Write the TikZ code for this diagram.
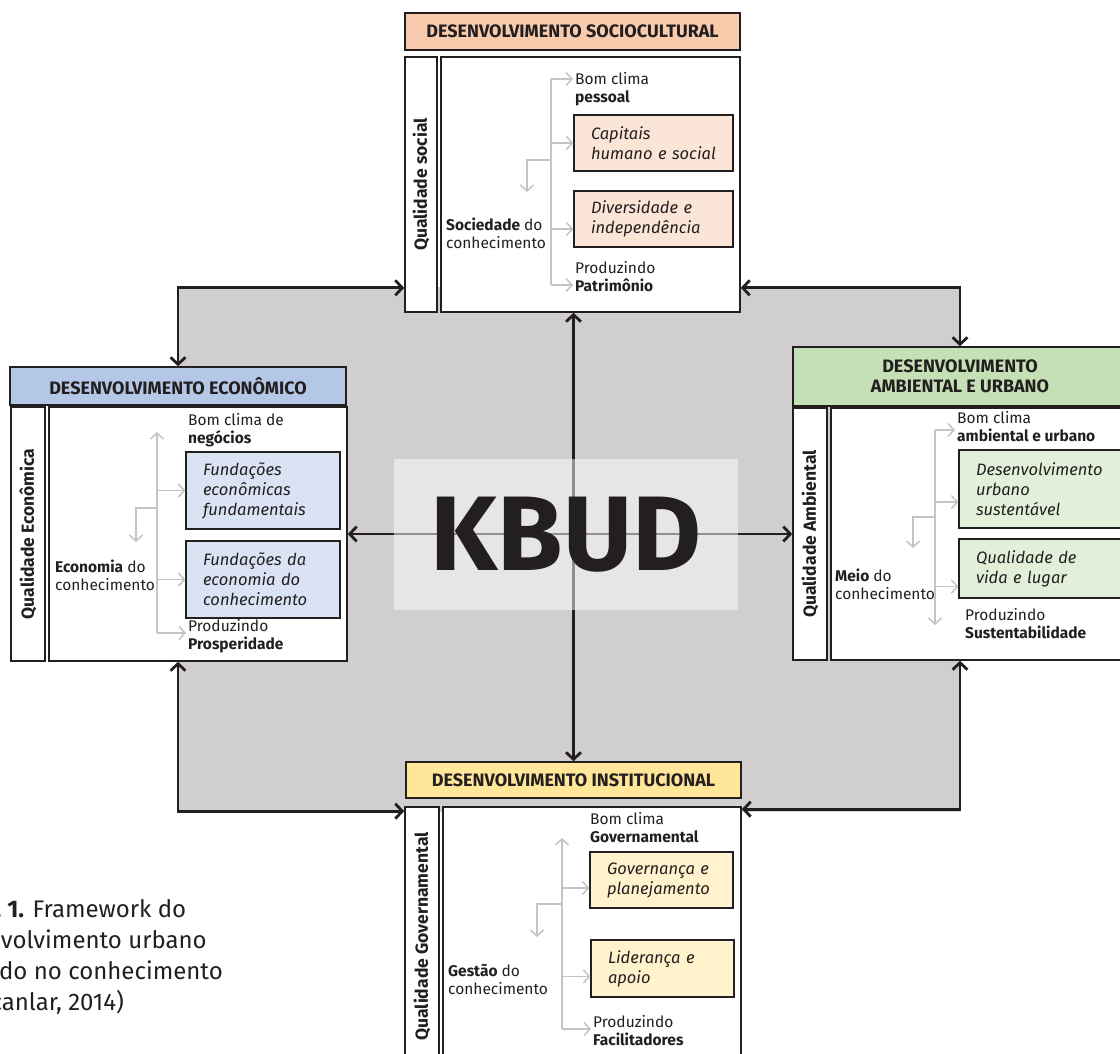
\documentclass[tikz,border=0pt]{standalone}
\usepackage{fontspec}
\setmainfont{Fira Sans}
\usetikzlibrary{arrows.meta}
\hyphenpenalty=10000
\definecolor{ink}{HTML}{231F20}
\definecolor{bggray}{HTML}{D0CECE}
\definecolor{twiggray}{HTML}{C4C4C4}
\definecolor{sochead}{HTML}{F8CBAD}
\definecolor{socfill}{HTML}{FBE5D6}
\definecolor{ecohead}{HTML}{B4C7E7}
\definecolor{ecofill}{HTML}{DAE3F3}
\definecolor{ambhead}{HTML}{C5E0B4}
\definecolor{ambfill}{HTML}{E2F0D9}
\definecolor{inshead}{HTML}{FFE699}
\definecolor{insfill}{HTML}{FFF2CC}
\begin{document}
\begin{tikzpicture}[x=1pt, y=-1pt, >={Straight Barb[length=7pt,width=15pt]},
  hdr/.style={draw=ink, line width=1.6pt, text=ink, align=center, font=\fontsize{18}{20}\selectfont\bfseries},
  side/.style={draw=ink, line width=1.6pt, fill=white, text=ink, inner sep=0pt, font=\fontsize{17.5}{20}\selectfont\bfseries},
  panel/.style={draw=ink, line width=1.6pt, fill=white},
  item/.style={draw=ink, line width=1.2pt, text=ink, align=left, inner xsep=17pt, inner ysep=0pt, font=\fontsize{16.5}{20}\selectfont\itshape},
  txt/.style={anchor=north west, inner sep=2pt, text=ink, align=left, font=\fontsize{15.5}{18}\selectfont},
  link/.style={draw=ink, line width=2.8pt, <->},
  twig/.style={draw=twiggray, line width=1.5pt},
  sprout/.style={twig, -{Straight Barb[length=6pt,width=13pt]}}]
  \useasboundingbox (0,0) rectangle (1120,1054);
  \fill[bggray] (178,287) rectangle (960,812);

  \node[hdr, fill=sochead, minimum width=335pt, minimum height=37pt] (sochdr) at (572.5,31.5) {DESENVOLVIMENTO SOCIOCULTURAL};
  \node[side, minimum width=32pt, minimum height=255pt] (socside) at (421,184.5) {\rotatebox{90}{Qualidade social}};
  \node[panel, minimum width=299pt, minimum height=255pt] (socbox) at (590.5,184.5) {};
  \node[item, fill=socfill, text width=125pt, minimum height=56pt] (soccap) at (653.5,143) {Capitais\\humano e social};
  \node[item, fill=socfill, text width=125pt, minimum height=56pt] (socdiv) at (653.5,219) {Diversidade e\\independência};
  \node[txt] (socclima) at (573,70) {Bom clima\\\textbf{pessoal}};
  \node[txt] (socprod) at (573,259) {Produzindo\\\textbf{Patrimônio}};
  \node[txt] (socknow) at (444,216) {\textbf{Sociedade} do\\conhecimento};

  \node[hdr, fill=ecohead, minimum width=336pt, minimum height=38pt] (ecohdr) at (178,386) {DESENVOLVIMENTO ECONÔMICO};
  \node[side, minimum width=34pt, minimum height=254pt] (ecoside) at (28,534) {\rotatebox{90}{Qualidade Econômica}};
  \node[panel, minimum width=298pt, minimum height=254pt] (ecobox) at (198,534) {};
  \node[item, fill=ecofill, text width=120pt, minimum height=77pt] (ecofund) at (263,490.5) {Fundações\\econômicas\\fundamentais};
  \node[item, fill=ecofill, text width=120pt, minimum height=77pt] (ecobase) at (263,579.5) {Fundações da\\economia do\\conhecimento};
  \node[txt] (ecoclima) at (186,411) {Bom clima de\\\textbf{negócios}};
  \node[txt] (ecoprod) at (186,617) {Produzindo\\\textbf{Prosperidade}};
  \node[txt] (ecoknow) at (53,558) {\textbf{Economia} do\\conhecimento};

  \node[hdr, fill=ambhead, minimum width=334pt, minimum height=59pt] (ambhdr) at (960,376.5) {DESENVOLVIMENTO\\AMBIENTAL E URBANO};
  \node[side, minimum width=34pt, minimum height=252pt] (ambside) at (810,534) {\rotatebox{90}{Qualidade Ambiental}};
  \node[panel, minimum width=296pt, minimum height=252pt] (ambbox) at (979,534) {};
  \node[item, fill=ambfill, text width=134pt, minimum height=78pt] (ambdes) at (1043,489) {Desenvolvimento\\urbano\\sustentável};
  \node[item, fill=ambfill, text width=134pt, minimum height=59pt] (ambvida) at (1043,568.5) {Qualidade de\\vida e lugar};
  \node[txt] (ambclima) at (955,409) {Bom clima\\\textbf{ambiental e urbano}};
  \node[txt] (ambprod) at (963,606) {Produzindo\\\textbf{Sustentabilidade}};
  \node[txt] (ambknow) at (833,567) {\textbf{Meio} do\\conhecimento};

  \node[hdr, fill=inshead, minimum width=335pt, minimum height=36pt] (inshdr) at (573.5,780) {DESENVOLVIMENTO INSTITUCIONAL};
  \node[side, minimum width=34pt, minimum height=259pt] (insside) at (422,936.5) {\rotatebox{90}{Qualidade Governamental}};
  \node[panel, minimum width=298pt, minimum height=259pt] (insbox) at (592,936.5) {};
  \node[item, fill=insfill, text width=109pt, minimum height=56pt] (insgov) at (661.5,880) {Governança e\\planejamento};
  \node[item, fill=insfill, text width=109pt, minimum height=57pt] (inslid) at (662.5,968.5) {Liderança e\\apoio};
  \node[txt] (insclima) at (588,810) {Bom clima\\\textbf{Governamental}};
  \node[txt] (insprod) at (591,1013) {Produzindo\\\textbf{Facilitadores}};
  \node[txt] (insknow) at (446,962) {\textbf{Gestão} do\\conhecimento};

  \coordinate (soctop) at (551,79);
  \coordinate (socbot) at (551,285);
  \coordinate (socfork) at (551,160);
  \coordinate (socdrop) at (527,192);
  \draw[twig] (soctop) -- (socbot);
  \draw[sprout] (soctop) -- (soctop -| socclima.west);
  \draw[sprout] (soctop |- soccap.west) -- (soccap.west);
  \draw[sprout] ([yshift=-10pt]socdiv.west -| soctop) -- ([yshift=-10pt]socdiv.west);
  \draw[sprout] (socbot) -- (socbot -| socprod.west);
  \draw[sprout] (socfork) -| (socdrop);

  \coordinate (ecotop) at (157,432);
  \coordinate (ecobot) at (157,633);
  \coordinate (ecofork) at (157,508);
  \coordinate (ecodrop) at (136,542);
  \draw[sprout] (ecobot) -- (ecotop);
  \draw[sprout] (ecobot) -- (ecobot -| ecoprod.west);
  \draw[sprout] (ecotop |- ecofund.west) -- (ecofund.west);
  \draw[sprout] (ecotop |- ecobase.west) -- (ecobase.west);
  \draw[sprout] (ecofork) -| (ecodrop);

  \coordinate (ambtop) at (935,430);
  \coordinate (ambbot) at (935,625);
  \coordinate (ambfork) at (935,517);
  \coordinate (ambdrop) at (913,548);
  \draw[sprout] (ambtop) -- (ambbot);
  \draw[sprout] (ambtop) -- (ambtop -| ambclima.west);
  \draw[sprout] ([yshift=-13pt]ambdes.west -| ambtop) -- ([yshift=-13pt]ambdes.west);
  \draw[sprout] ([yshift=-18pt]ambvida.west -| ambtop) -- ([yshift=-18pt]ambvida.west);
  \draw[sprout] (ambfork) -| (ambdrop);

  \coordinate (instop) at (562,838);
  \coordinate (insbot) at (562,1029);
  \coordinate (insfork) at (562,904);
  \coordinate (insdrop) at (537,937);
  \draw[sprout] (insbot) -- (instop);
  \draw[sprout] (insbot) -- (insbot -| insprod.west);
  \draw[sprout] ([yshift=-8pt]insgov.west -| instop) -- ([yshift=-8pt]insgov.west);
  \draw[sprout] ([yshift=-8pt]inslid.west -| instop) -- ([yshift=-8pt]inslid.west);
  \draw[sprout] (insfork) -| (insdrop);

  \draw[link] (ecohdr.north) |- ([yshift=25pt]socside.south west);
  \draw[link] ([yshift=25pt]socbox.south east) -| (ambhdr.north);
  \draw[link] (ecohdr.center |- ecobox.south) |- ([yshift=-5pt]insside.north west);
  \draw[link] ([yshift=-3pt]insbox.north east) -| (ambhdr.center |- ambbox.south);
  \draw[link] (inshdr.north |- socbox.south) -- (inshdr.north);
  \draw[link] (ecobox.east) -- (ambside.west);

  \node[fill=white, fill opacity=0.5, text opacity=1, text=ink, minimum width=344pt, minimum height=151pt, font=\fontsize{106}{106}\selectfont\bfseries] (kbud) at (566,534.5) {KBUD};

  \begin{scope}
    \clip (0,0) rectangle (1120,1054);
    \node[anchor=north west, inner sep=0pt, align=left, text=ink, font=\fontsize{24}{31}\selectfont] (caption) at (-65,898) {\textbf{Figura 1.} Framework do\\desenvolvimento urbano\\baseado no conhecimento\\(Yigitcanlar, 2014)};
  \end{scope}
\end{tikzpicture}
\end{document}
